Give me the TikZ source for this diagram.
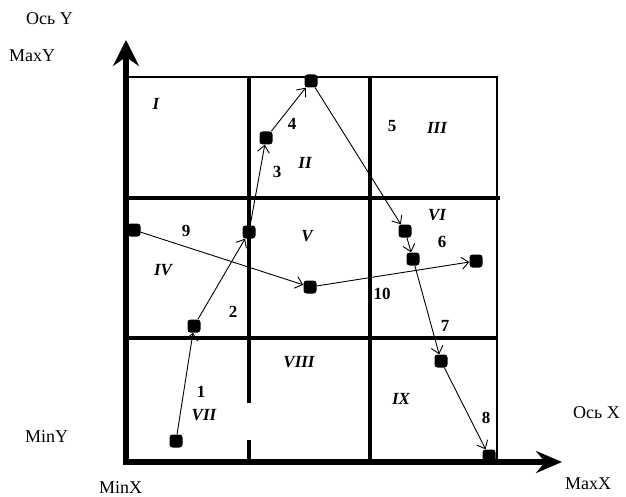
\documentclass[tikz,border=0pt]{standalone}
\usepackage{fontspec}
\setmainfont{Liberation Serif}
\usetikzlibrary{arrows.meta}

\begin{document}
\begin{tikzpicture}[
    x=1pt, y=-1pt,
    axis/.style={line width=6pt, line join=miter,
                 {Stealth[length=26pt, width=26pt, inset=9pt]}-{Stealth[length=26pt, width=22pt, inset=9pt]}},
    thingrid/.style={line width=1.2pt},
    thickgrid/.style={line width=4.5pt},
    dot/.style={rectangle, fill=black, rounded corners=3pt, minimum size=13pt, inner sep=0pt},
    move/.style={line width=0.9pt, -{Straight Barb[length=7pt, width=12pt]}},
    zone/.style={font=\fontsize{17}{17}\selectfont\bfseries\itshape},
    stepno/.style={font=\fontsize{17}{17}\selectfont\bfseries},
    lbl/.style={font=\fontsize{18}{18}\selectfont, anchor=west, inner sep=0pt}
]
\useasboundingbox (0,0) rectangle (626,497);

\draw[thingrid] (124,77) -- (497,77) -- (497,463);
\draw[thickgrid] (124,198) -- (500,198);
\draw[thickgrid] (124,338) -- (498,338);
\draw[thickgrid] (249,77) -- (249,403);
\draw[thickgrid] (249,440) -- (249,463);
\draw[thickgrid] (370,77) -- (370,463);
\draw[axis] (126,40) -- (126,462) -- (562,462);

\node[lbl] (oy) at (26,19) {Ось Y};
\node[lbl] (maxy) at (9,56) {MaxY};
\node[lbl] (miny) at (25,437) {MinY};
\node[lbl] (minx) at (99,488) {MinX};
\node[lbl] (maxx) at (565,484) {MaxX};
\node[lbl] (ox) at (573,413) {Ось X};

\node[zone] (z1) at (156,104) {I};
\node[zone] (z2) at (305,163) {II};
\node[zone] (z3) at (437,128) {III};
\node[zone] (z4) at (163,270) {IV};
\node[zone] (z5) at (307,236) {V};
\node[zone] (z6) at (437,215) {VI};
\node[zone] (z7) at (204,415) {VII};
\node[zone] (z8) at (299,362) {VIII};
\node[zone] (z9) at (401,399) {IX};

\node[dot] (a1) at (176,441) {};
\node[dot] (a2) at (194,326) {};
\node[dot] (a3) at (249,232) {};
\node[dot] (a4) at (266,138) {};
\node[dot] (a5) at (311,81) {};
\node[dot] (a6) at (405,231) {};
\node[dot] (a7) at (413,259) {};
\node[dot] (a8) at (441,361) {};
\node[dot] (a9) at (489,456) {};
\node[dot] (b1) at (134,230) {};
\node[dot] (b2) at (310,287) {};
\node[dot] (b3) at (476,261) {};

\draw[move] (a1) -- (a2);
\draw[move] (a2) -- (a3);
\draw[move] (a3) -- (a4);
\draw[move] (a4) -- (a5);
\draw[move] (a5) -- (a6);
\draw[move] (a6) -- (a7);
\draw[move] (a7) -- (a8);
\draw[move] (a8) -- (a9);
\draw[move] (b1) -- (b2);
\draw[move] (b2) -- (b3);

\node[stepno] (n1) at (201,392) {1};
\node[stepno] (n2) at (233,312) {2};
\node[stepno] (n3) at (277,172) {3};
\node[stepno] (n4) at (292,124) {4};
\node[stepno] (n5) at (392,126) {5};
\node[stepno] (n6) at (442,242) {6};
\node[stepno] (n7) at (445,326) {7};
\node[stepno] (n8) at (486,418) {8};
\node[stepno] (n9) at (186,231) {9};
\node[stepno] (n10) at (382,294) {10};
\end{tikzpicture}
\end{document}
